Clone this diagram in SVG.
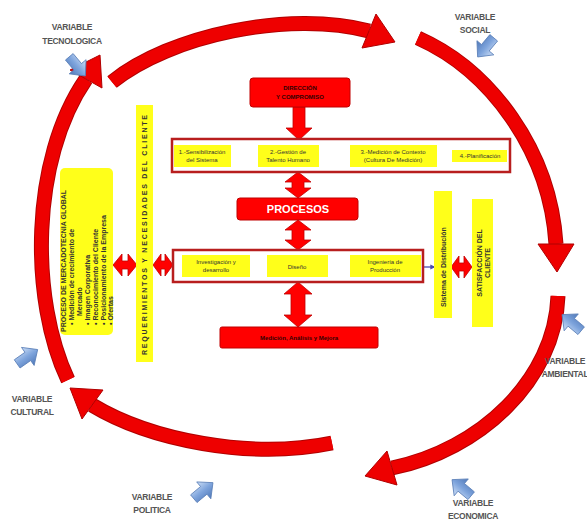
<svg xmlns="http://www.w3.org/2000/svg" width="587" height="523" viewBox="0 0 587 523">
<defs>
<linearGradient id="bg" x1="0" y1="0" x2="0" y2="1">
<stop offset="0" stop-color="#cfe0f7"/><stop offset="0.5" stop-color="#7ea4dc"/><stop offset="1" stop-color="#4f78b8"/>
</linearGradient>
<g id="blueArrow"><polygon points="-12,-5 1,-5 1,-11 13,0 1,11 1,5 -12,5" fill="url(#bg)" stroke="#5a7fb8" stroke-width="0.8"/></g>
<marker id="bh" viewBox="0 0 10 10" refX="9" refY="5" markerWidth="4" markerHeight="4" orient="auto-start-reverse"><path d="M0,0 L10,5 L0,10 z" fill="#4b4bb0"/></marker>
</defs>
<style>
.ring{fill:none;stroke:#ee0000;stroke-width:13}
.ringe{fill:none;stroke:#b00000;stroke-width:15}
.head{fill:#ee0000;stroke:#b00000;stroke-width:1}
.rbox{fill:#ff0000;stroke:#c00000;stroke-width:1}
.blk{fill:#ff0000;stroke:#c00000;stroke-width:0.8}
.band{fill:#fff;stroke:#b81e1e;stroke-width:2.5}
.yb{fill:#ffff1a}
.t{font-family:"Liberation Sans",Arial,sans-serif;fill:#333;font-size:6px;text-anchor:middle}
.tb{font-family:"Liberation Sans",Arial,sans-serif;fill:#333;font-size:7px;font-weight:bold}
.var{font-family:"Liberation Sans",Arial,sans-serif;fill:#555;font-size:8.5px;font-weight:bold;text-anchor:middle;letter-spacing:-0.3px}
.dbl{stroke:#4b4bb0;stroke-width:1.3;marker-start:url(#bh);marker-end:url(#bh)}
</style>
<rect width="587" height="523" fill="#fff"/>

<g id="ring">
<path class="ringe" d="M112,82 C170,35 290,10 369,31"/>
<path class="ring" d="M112,82 C170,35 290,10 369,31"/>
<polygon class="head" points="395,42 362,48 376,14"/>
<path class="ringe" d="M418,38 C490,70 550,150 556,244"/>
<path class="ring" d="M418,38 C490,70 550,150 556,244"/>
<polygon class="head" points="557,272 538,244 574,244"/>
<path class="ringe" d="M558,296 C555,380 480,450 392,468"/>
<path class="ring" d="M558,296 C555,380 480,450 392,468"/>
<polygon class="head" points="365,476 387,451 397,485"/>
<path class="ringe" d="M332,443 C250,460 150,440 92,405"/>
<path class="ring" d="M332,443 C250,460 150,440 92,405"/>
<polygon class="head" points="70,388 103,390 82,419"/>
<path class="ringe" d="M68,380 C30,300 30,160 86,79"/>
<path class="ring" d="M68,380 C30,300 30,160 86,79"/>
<polygon class="head" points="100,55 102,88 70,70"/>
</g>

<g id="variables">
<text class="var" x="72" y="30">VARIABLE</text><text class="var" x="72" y="44">TECNOLOGICA</text>
<use href="#blueArrow" transform="translate(77,66) rotate(50)"/>
<text class="var" x="475" y="20">VARIABLE</text><text class="var" x="475" y="33">SOCIAL</text>
<use href="#blueArrow" transform="translate(486,47) rotate(130)"/>
<text class="var" x="565" y="364">VARIABLE</text><text class="var" x="565" y="377">AMBIENTAL</text>
<use href="#blueArrow" transform="translate(572,323) rotate(-140)"/>
<text class="var" x="473" y="506">VARIABLE</text><text class="var" x="473" y="519">ECONOMICA</text>
<use href="#blueArrow" transform="translate(462,488) rotate(-140)"/>
<text class="var" x="152" y="500">VARIABLE</text><text class="var" x="152" y="513">POLITICA</text>
<use href="#blueArrow" transform="translate(203,491) rotate(-40)"/>
<text class="var" x="32" y="402">VARIABLE</text><text class="var" x="32" y="415">CULTURAL</text>
<use href="#blueArrow" transform="translate(27,357) rotate(-35)"/>
</g>

<g id="connectors">
<polygon class="blk" points="293,107 305,107 305,128 312,128 299,140 286,128 293,128"/>
<polygon class="blk" points="298,172 311,182 304,182 304,188 311,188 298,198 285,188 292,188 292,182 285,182"/>
<polygon class="blk" points="298,220 311,230 304,230 304,240 311,240 298,250 285,240 292,240 292,230 285,230"/>
<polygon class="blk" points="298,282 312,294 305,294 305,315 312,315 298,327 284,315 291,315 291,294 284,294"/>
<polygon class="blk" points="113,265 122,254 122,261 128,261 128,254 137,265 128,276 128,269 122,269 122,276"/>
<polygon class="blk" points="153,265 161,254 161,261 165,261 165,254 173,265 165,276 165,269 161,269 161,276"/>
<polygon class="blk" points="451,267 459,256 459,263 464,263 464,256 472,267 464,278 464,271 459,271 459,278"/>
<line class="dbl" x1="237" y1="156" x2="253" y2="156"/>
<line class="dbl" x1="323" y1="156" x2="345" y2="156"/>
<line class="dbl" x1="439" y1="156" x2="451" y2="156"/>
<line class="dbl" x1="251" y1="267" x2="266" y2="267"/>
<line class="dbl" x1="329" y1="267" x2="349" y2="267"/>
<line x1="422" y1="267" x2="435" y2="267" stroke="#4b4bb0" stroke-width="1.3" marker-end="url(#bh)"/>
</g>

<g id="direccion">
<rect class="rbox" x="250" y="78" width="100" height="29" rx="3"/>
<text class="t" x="300" y="90" style="font-weight:bold;fill:#300">DIRECCIÓN</text>
<text class="t" x="300" y="99" style="font-weight:bold;fill:#300">Y COMPROMISO</text>
</g>

<g id="banda-superior">
<rect class="band" x="172" y="139" width="338" height="33"/>
<rect class="yb" x="174" y="145" width="57" height="22"/>
<text class="t" x="202" y="154">1.-Sensibilización</text><text class="t" x="202" y="162">del Sistema</text>
<rect class="yb" x="258" y="145" width="61" height="22"/>
<text class="t" x="288" y="154">2.-Gestión de</text><text class="t" x="288" y="162">Talento Humano</text>
<rect class="yb" x="350" y="145" width="87" height="22"/>
<text class="t" x="393" y="154">3.-Medición de Contexto</text><text class="t" x="393" y="162">(Cultura De Medición)</text>
<rect class="yb" x="452" y="150" width="55" height="12"/>
<text class="t" x="480" y="158">4.-Planificación</text>
</g>

<g id="procesos">
<rect class="rbox" x="237" y="198" width="121" height="22" rx="3"/>
<text x="298" y="213" font-family="Liberation Sans,Arial,sans-serif" font-size="11" font-weight="bold" fill="#fff" text-anchor="middle">PROCESOS</text>
</g>

<g id="banda-media">
<rect class="band" x="173" y="250" width="250" height="32"/>
<rect class="yb" x="182" y="255" width="68" height="22"/>
<text class="t" x="216" y="264">Investigación y</text><text class="t" x="216" y="272">desarrollo</text>
<rect class="yb" x="267" y="255" width="61" height="22"/>
<text class="t" x="297" y="269">Diseño</text>
<rect class="yb" x="350" y="255" width="71" height="22"/>
<text class="t" x="385" y="264">Ingeniería de</text><text class="t" x="385" y="272">Producción</text>
</g>

<g id="medicion">
<rect class="rbox" x="220" y="327" width="158" height="21" rx="2"/>
<text class="t" x="299" y="340" style="font-weight:bold;fill:#300">Medición, Análisis y Mejora</text>
</g>

<g id="requerimientos">
<rect class="yb" x="136" y="105" width="17" height="257"/>
<text class="tb" transform="translate(146.5,355) rotate(-90)" font-size="6" textLength="240" lengthAdjust="spacing">REQUERIMIENTOS Y NECESIDADES DEL CLIENTE</text>
</g>

<g id="mercadotecnia">
<rect class="yb" x="60" y="168" width="53" height="167" rx="5"/>
<text class="tb" transform="translate(66,332) rotate(-90)">PROCESO DE MERCADOTECNIA GLOBAL</text>
<text class="tb" transform="translate(74,325) rotate(-90)">•  Medición de crecimiento de</text>
<text class="tb" transform="translate(82,316) rotate(-90)">Mercado</text>
<text class="tb" transform="translate(90,325) rotate(-90)">•  Imagen Corporativa</text>
<text class="tb" transform="translate(98,325) rotate(-90)">•  Reconocimiento del Cliente</text>
<text class="tb" transform="translate(106,325) rotate(-90)">•  Posicionamiento de la Empresa</text>
<text class="tb" transform="translate(113,325) rotate(-90)">•  Ofertas</text>
</g>

<g id="distribucion">
<rect class="yb" x="434" y="191" width="18" height="127"/>
<text class="tb" transform="translate(445.5,307) rotate(-90)">Sistema de Distribución</text>
</g>

<g id="satisfaccion">
<rect class="yb" x="472" y="199" width="21" height="128"/>
<text class="tb" transform="translate(482,263) rotate(-90)" font-size="8" text-anchor="middle">SATISFACCIÓN DEL</text>
<text class="tb" transform="translate(490,263) rotate(-90)" font-size="8" text-anchor="middle">CLIENTE</text>
</g>
</svg>
